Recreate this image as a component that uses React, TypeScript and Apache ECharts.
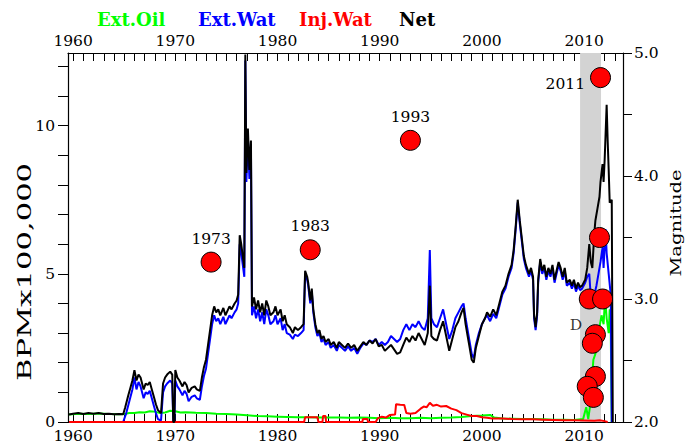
import React, { useEffect, useRef } from 'react';
import * as echarts from 'echarts';

// ---------- data ----------
const netYears = [1959.6, 1960.0, 1960.5, 1961.0, 1961.5, 1962.0, 1962.5, 1963.0, 1963.5, 1964.0, 1964.5, 1964.9,
  1965.1, 1965.4, 1965.6, 1965.8, 1966.0, 1966.2, 1966.4, 1966.6, 1966.9, 1967.1, 1967.3, 1967.5, 1967.7, 1967.9,
  1968.1, 1968.3, 1968.6, 1968.8, 1969.0, 1969.2, 1969.5, 1969.7, 1969.8, 1969.9, 1970.0, 1970.2, 1970.4, 1970.7,
  1970.9, 1971.1, 1971.3, 1971.6, 1971.9, 1972.1, 1972.4, 1972.6, 1972.8, 1973.0, 1973.2, 1973.4, 1973.6, 1973.8,
  1974.0, 1974.2, 1974.4, 1974.7, 1974.9, 1975.1, 1975.3, 1975.5, 1975.8, 1976.0, 1976.15, 1976.3, 1976.45, 1976.6,
  1976.75, 1976.85, 1976.95, 1977.1, 1977.25, 1977.4, 1977.5, 1977.7, 1977.9, 1978.1, 1978.3, 1978.5, 1978.7, 1978.9,
  1979.1, 1979.3, 1979.6, 1979.8, 1980.0, 1980.3, 1980.5, 1980.7, 1980.9, 1981.2, 1981.5, 1981.7, 1982.0, 1982.3,
  1982.55, 1982.7, 1982.9, 1983.0, 1983.2, 1983.35, 1983.5, 1983.7, 1983.9, 1984.1, 1984.3, 1984.5, 1984.7, 1985.0,
  1985.2, 1985.5, 1985.8, 1986.0, 1986.3, 1986.6, 1986.9, 1987.2, 1987.5, 1987.8, 1988.1, 1988.4, 1988.7, 1989.0,
  1989.3, 1989.6, 1989.9, 1990.2, 1990.5, 1990.8, 1991.1, 1991.4, 1991.7, 1992.0, 1992.3, 1992.6, 1992.9, 1993.2,
  1993.5, 1993.8, 1994.1, 1994.4, 1994.7, 1994.9, 1995.05, 1995.3, 1995.6, 1995.9, 1996.2, 1996.5, 1996.8, 1997.1,
  1997.4, 1997.7, 1998.0, 1998.2, 1998.4, 1998.6, 1998.8, 1999.0, 1999.2, 1999.4, 1999.7, 2000.0, 2000.3, 2000.5,
  2000.8, 2001.1, 2001.4, 2001.7, 2002.0, 2002.3, 2002.6, 2002.9, 2003.1, 2003.3, 2003.5, 2003.7, 2003.9, 2004.1,
  2004.3, 2004.6, 2004.8, 2005.0, 2005.1, 2005.25, 2005.4, 2005.5, 2005.7, 2005.9, 2006.1, 2006.3, 2006.5, 2006.7,
  2006.9, 2007.1, 2007.3, 2007.5, 2007.7, 2007.9, 2008.1, 2008.3, 2008.6, 2008.8, 2009.0, 2009.2, 2009.4, 2009.6,
  2009.8, 2010.1, 2010.3, 2010.5, 2010.65, 2010.8, 2011.0, 2011.1, 2011.3, 2011.5, 2011.6, 2011.8, 2011.9, 2012.0,
  2012.2, 2012.3, 2012.4, 2012.5, 2012.7, 2012.8];
const netValues = [0.25, 0.28, 0.3, 0.27, 0.3, 0.28, 0.3, 0.27, 0.28, 0.26, 0.27, 0.26,
  0.5, 0.9, 1.15, 1.4, 1.75, 1.4, 1.6, 1.5, 1.1, 1.3, 1.25, 1.35, 1.1, 0.85,
  0.6, 0.4, 0.3, 1.3, 1.5, 1.6, 1.7, 1.6, 0.0, 0.0, 1.75, 1.5, 1.4, 1.2,
  1.35, 1.25, 1.0, 1.15, 1.2, 1.1, 1.05, 1.5, 1.85, 2.1, 2.6, 3.1, 3.6, 3.9,
  3.7, 3.8, 3.6, 3.85, 3.6, 3.75, 3.9, 3.8, 4.0, 4.1, 4.3, 6.3, 6.0, 5.6,
  5.2, 12.4, 8.4, 9.9, 8.5, 9.5, 3.9, 4.2, 3.8, 4.1, 3.7, 4.0, 3.6, 4.1,
  3.9, 3.6, 3.7, 3.9, 3.6, 3.8, 3.4, 3.6, 3.3, 3.2, 3.0, 3.2, 3.1, 3.2,
  3.3, 5.1, 4.9, 4.7, 4.1, 4.5, 3.8, 3.3, 3.0, 3.1, 2.8, 2.9, 2.7, 2.8,
  2.6, 2.7, 2.5, 2.7, 2.6, 2.5, 2.65, 2.5, 2.6, 2.4, 2.55, 2.7, 2.6, 2.75,
  2.65, 2.8, 2.55, 2.6, 2.4, 2.5, 2.6, 2.45, 2.3, 2.35, 2.6, 2.85, 2.7, 2.9,
  2.75, 3.0, 2.8, 2.6, 3.0, 4.6, 2.9, 2.8, 2.75, 3.1, 3.4, 2.9, 2.4, 2.8,
  3.2, 3.4, 3.7, 3.85, 3.3, 2.9, 2.5, 2.1, 2.0, 2.5, 2.9, 3.3, 3.5, 3.7,
  3.55, 3.8, 3.6, 4.0, 4.4, 4.6, 5.0, 5.3, 5.8, 6.6, 7.5, 6.8, 6.2, 5.6,
  5.3, 5.0, 5.2, 4.9, 3.6, 3.2, 3.7, 4.8, 5.5, 5.1, 5.3, 4.9, 5.2, 5.0,
  5.3, 4.8, 5.1, 5.4, 5.2, 4.9, 5.2, 4.7, 4.8, 4.6, 4.8, 4.5, 4.7, 4.55,
  4.6, 4.8, 5.2, 6.0, 5.4, 5.2, 6.4, 6.8, 7.2, 7.6, 8.1, 8.7, 8.1, 8.8,
  10.7, 9.5, 8.5, 7.4, 7.5, 0.0];

const watYears = [1959.6, 1964.9, 1965.2, 1965.5, 1965.8, 1966.0, 1966.2, 1966.4, 1966.6, 1966.9, 1967.1, 1967.3,
  1967.5, 1967.7, 1967.9, 1968.1, 1968.3, 1968.6, 1968.8, 1969.0, 1969.2, 1969.5, 1969.7, 1969.8, 1969.9, 1970.0,
  1970.2, 1970.4, 1970.7, 1970.9, 1971.1, 1971.3, 1971.6, 1971.9, 1972.1, 1972.4, 1972.6, 1972.8, 1973.0, 1973.2,
  1973.4, 1973.6, 1973.8, 1974.0, 1974.2, 1974.4, 1974.7, 1974.9, 1975.1, 1975.3, 1975.5, 1975.8, 1976.0, 1976.15,
  1976.3, 1976.45, 1976.6, 1976.75, 1976.85, 1976.95, 1977.1, 1977.25, 1977.4, 1977.5, 1977.7, 1977.9, 1978.1,
  1978.3, 1978.5, 1978.7, 1978.9, 1979.1, 1979.3, 1979.6, 1979.8, 1980.0, 1980.3, 1980.5, 1980.7, 1980.9, 1981.2,
  1981.5, 1981.7, 1982.0, 1982.3, 1982.55, 1982.7, 1982.9, 1983.0, 1983.2, 1983.35, 1983.5, 1983.7, 1983.9, 1984.1,
  1984.3, 1984.5, 1984.7, 1985.0, 1985.2, 1985.5, 1985.8, 1986.0, 1986.3, 1986.6, 1986.9, 1987.2, 1987.5, 1987.8,
  1988.1, 1988.4, 1988.7, 1989.0, 1989.3, 1989.6, 1989.9, 1990.2, 1990.5, 1990.8, 1991.1, 1991.4, 1991.7, 1992.0,
  1992.3, 1992.6, 1992.9, 1993.2, 1993.5, 1993.8, 1994.1, 1994.4, 1994.7, 1994.9, 1995.05, 1995.3, 1995.6, 1995.9,
  1996.2, 1996.5, 1996.8, 1997.1, 1997.4, 1997.7, 1998.0, 1998.2, 1998.4, 1998.6, 1998.8, 1999.0, 1999.2, 1999.4,
  1999.7, 2000.0, 2000.3, 2000.5, 2000.8, 2001.1, 2001.4, 2001.7, 2002.0, 2002.3, 2002.6, 2002.9, 2003.1, 2003.3,
  2003.5, 2003.7, 2003.9, 2004.1, 2004.3, 2004.6, 2004.8, 2005.0, 2005.1, 2005.25, 2005.4, 2005.5, 2005.7, 2005.9,
  2006.1, 2006.3, 2006.5, 2006.7, 2006.9, 2007.1, 2007.3, 2007.5, 2007.7, 2007.9, 2008.1, 2008.3, 2008.6, 2008.8,
  2009.0, 2009.2, 2009.4, 2009.6, 2009.8, 2010.1, 2010.3, 2010.5, 2010.65, 2010.8, 2011.0, 2011.2, 2011.4, 2011.6,
  2011.8, 2011.9, 2012.1, 2012.2, 2012.4, 2012.6, 2012.7];
const watValues = [0.0, 0.0, 0.3, 0.7, 1.1, 1.5, 1.1, 1.35, 1.2, 0.8, 1.0, 0.95,
  1.05, 0.8, 0.55, 0.3, 0.1, 0.05, 1.0, 1.2, 1.3, 1.4, 1.3, 0.0, 0.0, 1.4,
  1.2, 1.1, 0.9, 1.05, 0.95, 0.7, 0.85, 0.9, 0.8, 0.75, 1.2, 1.55, 1.8, 2.3,
  2.8, 3.3, 3.6, 3.4, 3.5, 3.3, 3.55, 3.3, 3.45, 3.6, 3.5, 3.7, 3.8, 4.0,
  6.0, 5.7, 5.3, 4.9, 12.2, 8.1, 9.6, 8.2, 9.2, 3.6, 3.9, 3.5, 3.8,
  3.4, 3.7, 3.3, 3.8, 3.6, 3.3, 3.4, 3.6, 3.3, 3.5, 3.1, 3.3, 3.0, 2.95,
  2.8, 2.95, 2.9, 3.0, 3.1, 5.0, 4.8, 4.6, 4.0, 4.4, 3.7, 3.2, 2.9, 3.0,
  2.7, 2.8, 2.6, 2.7, 2.5, 2.6, 2.4, 2.6, 2.5, 2.4, 2.55, 2.4, 2.5, 2.3,
  2.5, 2.65, 2.6, 2.75, 2.7, 2.8, 2.6, 2.7, 2.6, 2.7, 2.9, 2.8, 2.7, 2.8,
  3.1, 3.3, 3.1, 3.3, 3.2, 3.4, 3.2, 3.1, 3.5, 5.8, 3.5, 3.3, 3.2, 3.5,
  3.8, 3.3, 2.8, 3.1, 3.5, 3.7, 3.9, 4.0, 3.5, 3.1, 2.7, 2.3, 2.15, 2.6,
  3.0, 3.3, 3.5, 3.6, 3.4, 3.65, 3.5, 3.9, 4.3, 4.5, 4.9, 5.2, 5.7, 6.5,
  7.4, 6.7, 6.1, 5.5, 5.2, 4.9, 5.1, 4.8, 3.5, 3.1, 3.6, 4.7, 5.4, 5.0,
  5.2, 4.8, 5.1, 4.9, 5.2, 4.7, 5.0, 5.3, 5.1, 4.8, 5.1, 4.6, 4.7, 4.5,
  4.7, 4.4, 4.6, 4.45, 4.5, 4.7, 4.9, 5.0, 4.2, 3.9, 4.3, 4.6, 5.0, 5.4,
  5.9, 5.2, 6.5, 5.7, 5.0, 4.3, 0.0];

const oilYears = [1959.6, 1960.5, 1961.5, 1962.5, 1963.5, 1964.5, 1965.0, 1965.5, 1966.0, 1966.5, 1967.0, 1967.5,
  1968.0, 1968.5, 1969.0, 1969.5, 1970.0, 1970.5, 1971.0, 1972.0, 1973.0, 1974.0, 1975.0, 1976.0, 1977.0, 1978.0,
  1979.0, 1980.0, 1981.0, 1982.0, 1983.0, 1984.0, 1985.0, 1986.0, 1987.0, 1988.0, 1989.0, 1990.0, 1991.0, 1992.0,
  1993.0, 1994.0, 1995.0, 1996.0, 1997.0, 1998.0, 1999.0, 2000.0, 2000.8, 2001.2, 2002.0, 2003.0, 2004.0, 2005.0,
  2006.0, 2007.0, 2008.0, 2009.0, 2009.9, 2010.2, 2010.4, 2010.6, 2010.8, 2010.9, 2011.1, 2011.3, 2011.5, 2011.7,
  2011.9, 2012.0, 2012.1, 2012.2, 2012.4, 2012.5, 2012.6, 2012.7];
const oilValues = [0.25, 0.28, 0.27, 0.29, 0.27, 0.26, 0.27, 0.3, 0.3, 0.33, 0.32, 0.36,
  0.35, 0.3, 0.32, 0.38, 0.36, 0.32, 0.33, 0.31, 0.3, 0.28, 0.27, 0.25, 0.23, 0.2,
  0.19, 0.18, 0.17, 0.16, 0.16, 0.15, 0.15, 0.15, 0.14, 0.15, 0.14, 0.13, 0.14, 0.13,
  0.13, 0.14, 0.13, 0.14, 0.15, 0.17, 0.2, 0.22, 0.24, 0.15, 0.12, 0.11, 0.1, 0.1,
  0.09, 0.08, 0.08, 0.07, 0.1, 0.5, 0.1, 0.6, 1.6, 2.1, 2.3, 2.9, 3.2, 3.6,
  3.3, 3.9, 4.0, 3.5, 3.0, 3.8, 3.1, 0.0];

const injYears = [1959.6, 1982.6, 1982.7, 1983.9, 1984.0, 1984.4, 1984.45, 1984.7, 1984.75, 1988.3, 1988.35, 1988.8,
  1988.85, 1989.6, 1989.8, 1990.2, 1990.6, 1991.0, 1991.5, 1991.6, 1992.0, 1992.4, 1992.6, 1993.0, 1993.5, 1994.0,
  1994.3, 1994.6, 1994.9, 1995.2, 1995.6, 1996.0, 1996.5, 1997.0, 1997.5, 1998.0, 1998.5, 1999.0, 1999.5, 2000.0,
  2000.5, 2001.0, 2002.0, 2003.0, 2004.0, 2005.0, 2006.0, 2007.0, 2008.0, 2009.0, 2010.0, 2011.0, 2011.5, 2012.0,
  2012.3];
const injValues = [0.0, 0.0, 0.16, 0.16, 0.0, 0.0, 0.2, 0.2, 0.0, 0.0, 0.1, 0.1,
  0.0, 0.0, 0.12, 0.18, 0.15, 0.24, 0.25, 0.6, 0.58, 0.57, 0.3, 0.28, 0.3, 0.45,
  0.52, 0.5, 0.65, 0.55, 0.58, 0.52, 0.54, 0.45, 0.4, 0.3, 0.25, 0.2, 0.2, 0.16,
  0.14, 0.12, 0.12, 0.1, 0.09, 0.09, 0.08, 0.07, 0.06, 0.06, 0.05, 0.04, 0.06, 0.03,
  0.0];

const quakeYears = [1973.5, 1983.2, 1993.0, 2011.6, 2011.5, 2010.5, 2011.8, 2011.1, 2010.8, 2011.1, 2010.3, 2010.9];
const quakeMags = [3.3, 3.4, 4.29, 4.8, 3.5, 3.0, 3.0, 2.71, 2.64, 2.37, 2.29, 2.2];
const quakeLabels = ['1973', '1983', '1993', '2011', '', '', '', '', '', '', '', ''];

const shadeStart = 2009.6;
const shadeEnd = 2011.65;
const noteText = 'D';
const notePos = [2009.2, 3.27];

const xLabelYears = [1960, 1970, 1980, 1990, 2000, 2010];
const xTickYears = Array.from({ length: 54 }, (_, i) => 1960 + i);
const leftTicks = [0, 1, 2, 3, 4, 5, 6, 7, 8, 9, 10, 11, 12];
const leftLabels = [0, 5, 10];
const rightTicks = [2, 2.5, 3, 3.5, 4, 4.5, 5];
const rightLabels = [2, 3, 4, 5];

const legendNames = ['Ext.Oil', 'Ext.Wat', 'Inj.Wat', 'Net'];
const legendColors = ['#00ff00', '#0000ff', '#ff0000', '#000000'];

const zip = (xs: number[], ys: number[]) => xs.map((x, i) => [x, ys[i]]);

const FONT = '"DejaVu Serif", serif';

export default function App() {
  const ref = useRef<HTMLDivElement>(null);
  useEffect(() => {
    const chart = echarts.init(ref.current!, null, { renderer: 'svg' });
    const xCommon = {
      type: 'value',
      min: 1959.5,
      max: 2013.8,
      splitLine: { show: false },
      axisLine: { show: true, onZero: false, lineStyle: { color: '#000', width: 1.2 } },
      axisTick: { show: true, inside: true, length: 8, customValues: xTickYears, lineStyle: { color: '#000', width: 1 } },
      axisLabel: {
        show: true, customValues: xLabelYears, color: '#000', fontFamily: FONT, fontSize: 15.5,
        formatter: (v: number) => String(Math.round(v)),
      },
    };
    const lineSeries = (name: string, data: number[][], color: string, z: number) => ({
      name, type: 'line', data, xAxisIndex: 0, yAxisIndex: 0, showSymbol: false, symbol: 'none',
      lineStyle: { color, width: 2 }, itemStyle: { color }, z, silent: true,
    });
    const legendX = [97, 198, 299, 399];
    const option: any = {
      animation: false,
      backgroundColor: '#fff',
      textStyle: { fontFamily: FONT },
      grid: { left: 68, right: 70, top: 53, bottom: 25, containLabel: false },
      xAxis: [
        { ...xCommon, position: 'bottom', axisLabel: { ...xCommon.axisLabel, margin: 6 } },
        { ...xCommon, position: 'top', axisLabel: { ...xCommon.axisLabel, margin: 4 } },
      ],
      yAxis: [
        {
          type: 'value', min: 0, max: 12.45, position: 'left',
          splitLine: { show: false },
          axisLine: { show: true, lineStyle: { color: '#000', width: 1.2 } },
          axisTick: { show: true, inside: false, length: 10, customValues: leftTicks, lineStyle: { color: '#000' } },
          axisLabel: { customValues: leftLabels, color: '#000', fontFamily: FONT, fontSize: 15.5, margin: 13 },
        },
        {
          type: 'value', min: 2, max: 5, position: 'right',
          splitLine: { show: false },
          axisLine: { show: true, lineStyle: { color: '#000', width: 1.2 } },
          axisTick: { show: true, inside: false, length: 9, customValues: rightTicks, lineStyle: { color: '#000' } },
          axisLabel: {
            customValues: rightLabels, color: '#000', fontFamily: FONT, fontSize: 15.5, margin: 11,
            formatter: (v: number) => v.toFixed(1),
          },
        },
      ],
      graphic: [
        ...legendNames.map((n, i) => ({
          type: 'text', x: legendX[i], y: 19, silent: true,
          style: { text: n, fill: legendColors[i], font: `bold 18px ${FONT}`, align: 'left', verticalAlign: 'middle' },
        })),
        {
          type: 'text', x: 25, y: 272, rotation: Math.PI / 2, scaleX: 1.7, silent: true,
          style: { text: 'BPMx100,000', fill: '#000', font: `18px ${FONT}`, align: 'center', verticalAlign: 'middle' },
        },
        {
          type: 'text', x: 676, y: 223, rotation: Math.PI / 2, scaleX: 1.3, silent: true,
          style: { text: 'Magnitude', fill: '#000', font: `15px ${FONT}`, align: 'center', verticalAlign: 'middle' },
        },
      ],
      series: [
        {
          name: 'shade', type: 'line', data: [[shadeStart, 0]], symbol: 'none', lineStyle: { width: 0 }, z: 1, silent: true,
          markArea: {
            silent: true,
            itemStyle: { color: '#d3d3d3', opacity: 1 },
            data: [[{ xAxis: shadeStart }, { xAxis: shadeEnd }]],
          },
        },
        lineSeries('Ext.Oil', zip(oilYears, oilValues), '#00ff00', 2),
        lineSeries('Ext.Wat', zip(watYears, watValues), '#0000ff', 3),
        lineSeries('Inj.Wat', zip(injYears, injValues), '#ff0000', 4),
        lineSeries('Net', zip(netYears, netValues), '#000000', 5),
        {
          name: 'note', type: 'scatter', xAxisIndex: 0, yAxisIndex: 0, symbolSize: 0, z: 6, silent: true,
          data: [notePos],
          label: { show: true, position: 'inside', formatter: noteText, color: '#000', fontFamily: FONT, fontSize: 15.5 },
        },
        {
          name: 'Quakes', type: 'scatter', xAxisIndex: 0, yAxisIndex: 1, symbol: 'circle', symbolSize: 20, z: 10, silent: true,
          itemStyle: { color: '#ff0000', borderColor: '#000', borderWidth: 1, opacity: 1 },
          data: quakeYears.map((y, i) => ({
            value: [y, quakeMags[i]],
            label: quakeLabels[i] === '2011'
              ? { show: true, position: 'left', distance: 5, offset: [0, 6], formatter: quakeLabels[i] }
              : { show: quakeLabels[i] !== '', position: 'top', distance: 5, formatter: quakeLabels[i] },
          })),
          label: { color: '#000', fontFamily: FONT, fontSize: 15.5 },
        },
      ],
    };
    chart.setOption(option);
    return () => chart.dispose();
  }, []);
  return <div ref={ref} style={{ position: 'fixed', left: 0, top: 0, width: 693, height: 447 }} />;
}
